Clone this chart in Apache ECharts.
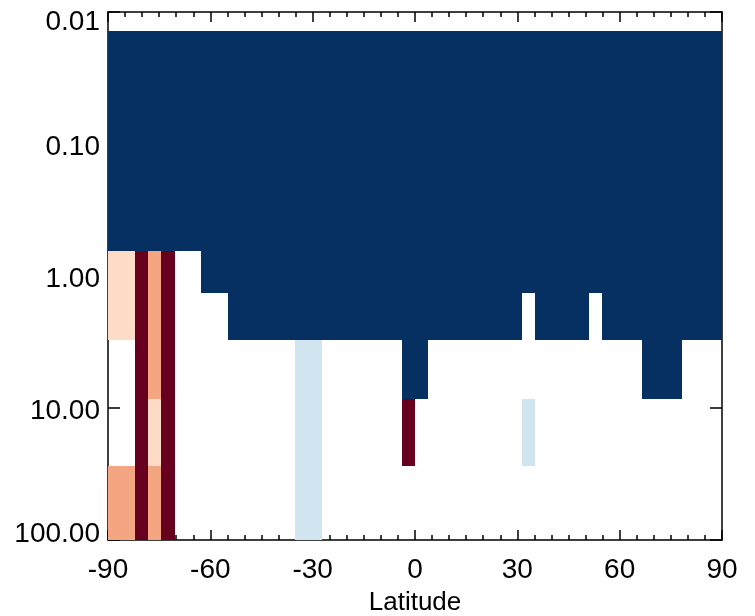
<!DOCTYPE html>
<html><head><meta charset="utf-8">
<script src="https://cdn.jsdelivr.net/npm/echarts@6/dist/echarts.min.js"></script>
<style>html,body{margin:0;padding:0;background:#fff}#chart{width:755px;height:616px}</style>
</head><body><div id="chart"></div>
<script>
// Latitude cell edges (46 cells, -90..90)
const latEdges = [-90, -86.09, -82.17, -78.26, -74.35, -70.43, -66.52, -62.61, -58.70, -54.78,
  -50.87, -46.96, -43.04, -39.13, -35.22, -31.30, -27.39, -23.48, -19.57, -15.65, -11.74,
  -7.83, -3.91, 0, 3.91, 7.83, 11.74, 15.65, 19.57, 23.48, 27.39, 31.30, 35.22, 39.13,
  43.04, 46.96, 50.87, 54.78, 58.70, 62.61, 66.52, 70.43, 74.35, 78.26, 82.17, 86.09, 90];
// Pressure layer edges (top to bottom)
const pressureEdges = [0.0139, 0.643, 1.34, 3.04, 8.55, 27.5, 100];

// Cell values per pressure layer (null = no data)
const level1 = [-5,-5,-5,-5,-5,-5,-5,-5,-5,-5,-5,-5,-5,-5,-5,-5,-5,-5,-5,-5,-5,-5,-5,-5,-5,-5,-5,-5,-5,-5,-5,-5,-5,-5,-5,-5,-5,-5,-5,-5,-5,-5,-5,-5,-5,-5];
const level2 = [2,2,5,3,5,null,null,-5,-5,-5,-5,-5,-5,-5,-5,-5,-5,-5,-5,-5,-5,-5,-5,-5,-5,-5,-5,-5,-5,-5,-5,-5,-5,-5,-5,-5,-5,-5,-5,-5,-5,-5,-5,-5,-5,-5];
const level3 = [2,2,5,3,5,null,null,null,null,-5,-5,-5,-5,-5,-5,-5,-5,-5,-5,-5,-5,-5,-5,-5,-5,-5,-5,-5,-5,-5,-5,null,-5,-5,-5,-5,null,-5,-5,-5,-5,-5,-5,-5,-5,-5];
const level4 = [null,null,5,3,5,null,null,null,null,null,null,null,null,null,-2,-2,null,null,null,null,null,null,-5,-5,null,null,null,null,null,null,null,null,null,null,null,null,null,null,null,null,-5,-5,-5,null,null,null];
const level5 = [null,null,5,2,5,null,null,null,null,null,null,null,null,null,-2,-2,null,null,null,null,null,null,5,null,null,null,null,null,null,null,null,-2,null,null,null,null,null,null,null,null,null,null,null,null,null,null];
const level6 = [3,3,5,3,5,null,null,null,null,null,null,null,null,null,-2,-2,null,null,null,null,null,null,null,null,null,null,null,null,null,null,null,null,null,null,null,null,null,null,null,null,null,null,null,null,null,null];
const levels = [level1, level2, level3, level4, level5, level6];

const classValues = [5, 3, 2, -2, -5];
const classColors = ['#67001f', '#f4a582', '#fddbc7', '#d1e5f0', '#053061'];

const latTicks = [-90, -60, -30, 0, 30, 60, 90];
const pressureTickValues = [0.01, 0.1, 1, 10, 100];
const pressureTickLabels = ['0.01', '0.10', '1.00', '10.00', '100.00'];

const cells = [];
levels.forEach((row, r) => row.forEach((v, c) => {
  if (v !== null) cells.push([latEdges[c], latEdges[c + 1], pressureEdges[r], pressureEdges[r + 1], v]);
}));

const FONT = '"Liberation Sans", Arial, Helvetica, sans-serif';
const ls = { color: '#000', width: 1.5 };
const base = { fontSize: 28, color: '#000', fontFamily: FONT, lineHeight: 14 };

function pLabel(v) {
  const i = pressureTickValues.findIndex(t => Math.abs(Math.log10(t) - Math.log10(v)) < 1e-6);
  if (i < 0) return '';
  const key = i === 0 ? 'first' : (i === pressureTickValues.length - 1 ? 'last' : 'mid');
  return '{' + key + '|' + pressureTickLabels[i] + '}';
}

const chart = echarts.init(document.getElementById('chart'), null, { renderer: 'canvas' });
chart.setOption({
  animation: false,
  backgroundColor: '#fff',
  grid: { left: 108, right: 33, top: 12, bottom: 76, containLabel: false, outerBoundsMode: 'none' },
  visualMap: {
    show: false, type: 'piecewise', dimension: 4, seriesIndex: 0,
    pieces: classValues.map((v, i) => ({ value: v, color: classColors[i] }))
  },
  xAxis: [{
    type: 'value', min: latTicks[0], max: latTicks[latTicks.length - 1], interval: 30, position: 'bottom',
    axisLine: { show: true, onZero: false, lineStyle: ls },
    axisTick: { show: true, inside: true, length: 10, lineStyle: ls },
    minorTick: { show: true, splitNumber: 6, length: 5, lineStyle: ls },
    splitLine: { show: false }, minorSplitLine: { show: false },
    axisLabel: Object.assign({ margin: 23, formatter: v => String(v) }, base),
    name: 'Latitude', nameLocation: 'middle', nameGap: 56,
    nameTextStyle: { fontSize: 26, color: '#000', fontFamily: FONT, lineHeight: 14 }
  }, {
    type: 'value', min: latTicks[0], max: latTicks[latTicks.length - 1], interval: 30, position: 'top',
    axisLine: { show: true, onZero: false, lineStyle: ls },
    axisTick: { show: true, inside: true, length: 10, lineStyle: ls },
    minorTick: { show: true, splitNumber: 6, length: 5, lineStyle: ls },
    splitLine: { show: false }, axisLabel: { show: false }
  }],
  yAxis: [{
    type: 'log', logBase: 10, min: pressureTickValues[0], max: pressureTickValues[pressureTickValues.length - 1],
    inverse: true, position: 'left',
    axisLine: { show: true, onZero: false, lineStyle: ls },
    axisTick: { show: true, inside: true, length: 12, lineStyle: ls },
    splitLine: { show: false },
    axisLabel: Object.assign({
      margin: 8, formatter: pLabel,
      rich: {
        first: Object.assign({ padding: [20, 0, 0, 0] }, base),
        mid: Object.assign({ padding: [7, 0, 0, 0] }, base),
        last: Object.assign({ padding: [0, 0, 12, 0] }, base)
      }
    }, base)
  }, {
    type: 'log', logBase: 10, min: pressureTickValues[0], max: pressureTickValues[pressureTickValues.length - 1],
    inverse: true, position: 'right',
    axisLine: { show: true, onZero: false, lineStyle: ls },
    axisTick: { show: true, inside: true, length: 12, lineStyle: ls },
    splitLine: { show: false }, axisLabel: { show: false }
  }],
  series: [{
    type: 'custom',
    xAxisIndex: 0, yAxisIndex: 0,
    encode: { x: [0, 1], y: [2, 3] },
    data: cells,
    clip: true,
    renderItem: function (params, api) {
      const p0 = api.coord([api.value(0), api.value(2)]);
      const p1 = api.coord([api.value(1), api.value(3)]);
      const x0 = Math.round(Math.min(p0[0], p1[0])), x1 = Math.round(Math.max(p0[0], p1[0]));
      const y0 = Math.round(Math.min(p0[1], p1[1])), y1 = Math.round(Math.max(p0[1], p1[1]));
      return {
        type: 'rect',
        shape: { x: x0, y: y0, width: x1 - x0, height: y1 - y0 },
        style: { fill: api.visual('color') }
      };
    }
  }]
});
</script></body></html>
